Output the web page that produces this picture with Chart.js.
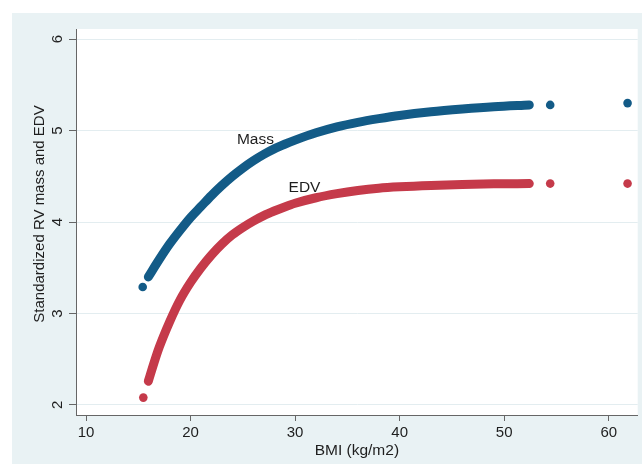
<!DOCTYPE html>
<html><head><meta charset="utf-8">
<script src="https://cdn.jsdelivr.net/npm/chart.js@4/dist/chart.umd.min.js"></script>
<style>html,body{margin:0;padding:0;background:#fff}#wrap{width:642px;height:470px;position:relative}</style>
</head><body><div id="wrap"><canvas id="c" width="642" height="470"></canvas></div>
<script>
// Tick values
const xTickValues = [10, 20, 30, 40, 50, 60];
const yTickValues = [2, 3, 4, 5, 6];
const xTitle = 'BMI (kg/m2)';
const yTitle = 'Standardized RV mass and EDV';

// Mass: dense (continuous-looking) part of the scatter
const massCurveX = [15.96, 17.0, 18.0, 19.0, 20.0, 21.0, 22.0, 23.0, 24.0, 25.0, 26.0, 27.0, 28.0, 29.0, 30.0, 32.0, 34.0, 36.0, 38.0, 40.0, 43.0, 46.0, 49.0, 52.4];
const massCurveY = [3.40, 3.59, 3.76, 3.91, 4.05, 4.17, 4.29, 4.40, 4.50, 4.59, 4.67, 4.74, 4.80, 4.85, 4.895, 4.975, 5.04, 5.09, 5.13, 5.165, 5.205, 5.235, 5.26, 5.28];
// Mass: isolated points
const massIsoX = [15.42, 54.4, 61.8];
const massIsoY = [3.29, 5.28, 5.30];

// EDV: dense part
const edvCurveX = [15.96, 16.5, 17.0, 18.0, 19.0, 20.0, 21.0, 22.0, 23.0, 24.0, 25.0, 26.0, 27.0, 28.0, 29.0, 30.0, 32.0, 34.0, 36.0, 38.0, 40.0, 43.0, 46.0, 49.0, 52.4];
const edvCurveY = [2.26, 2.46, 2.63, 2.91, 3.15, 3.34, 3.50, 3.64, 3.76, 3.86, 3.94, 4.01, 4.07, 4.12, 4.165, 4.205, 4.265, 4.31, 4.345, 4.37, 4.385, 4.40, 4.41, 4.417, 4.42];
// EDV: isolated points
const edvIsoX = [15.48, 54.4, 61.8];
const edvIsoY = [2.08, 4.42, 4.42];

// In-plot labels
const seriesLabels = ['Mass', 'EDV'];
const seriesLabelX = [26.2, 30.9];
const seriesLabelY = [4.90, 4.38];

const BLUE = '#135b87';
const RED = '#c53a4a';
const BG = '#e9f2f4';
const FONT = '"Liberation Sans", Arial, sans-serif';
const TXT = '#1e1e1e';

const pts = (xs, ys) => xs.map((x, i) => ({x: x, y: ys[i]}));

const bgPlugin = {
  id: 'bg',
  beforeDraw(chart) {
    const ctx = chart.ctx, a = chart.chartArea;
    ctx.save();
    ctx.fillStyle = '#ffffff';
    ctx.fillRect(0, 0, chart.width, chart.height);
    ctx.fillStyle = BG;
    ctx.fillRect(12, 13, chart.width - 12, 451);
    ctx.fillStyle = '#ffffff';
    ctx.fillRect(a.left, a.top, a.right - a.left, a.bottom - a.top);
    ctx.restore();
  },
  afterDraw(chart) {
    const ctx = chart.ctx, a = chart.chartArea;
    const ys = chart.scales.y, xs = chart.scales.x;
    ctx.save();
    ctx.fillStyle = TXT;
    ctx.textAlign = 'center';
    ctx.textBaseline = 'middle';
    // y tick labels (vertical)
    ctx.font = '15px ' + FONT;
    ys.ticks.forEach(t => {
      const py = ys.getPixelForValue(t.value);
      ctx.save();
      ctx.translate(a.left - 18, py);
      ctx.rotate(-Math.PI / 2);
      ctx.fillText(String(t.value), 0, 0);
      ctx.restore();
    });
    // y title
    ctx.font = '15px ' + FONT;
    ctx.save();
    ctx.translate(40, 214);
    ctx.rotate(-Math.PI / 2);
    ctx.fillText(yTitle, 0, 0);
    ctx.restore();
    // x title
    ctx.font = '15.5px ' + FONT;
    ctx.fillText(xTitle, (a.left + a.right) / 2, 451);
    // series labels
    ctx.font = '15.5px ' + FONT;
    seriesLabels.forEach((s, i) => {
      ctx.fillText(s, xs.getPixelForValue(seriesLabelX[i]), ys.getPixelForValue(seriesLabelY[i]));
    });
    ctx.restore();
  }
};

const curveStyle = (c) => ({
  showLine: true, borderColor: c, backgroundColor: c, borderWidth: 9,
  pointRadius: 0, cubicInterpolationMode: 'monotone',
  borderCapStyle: 'round', borderJoinStyle: 'round'
});
const isoStyle = (c) => ({
  showLine: false, backgroundColor: c, borderColor: c, borderWidth: 0, pointRadius: 4.3
});

new Chart(document.getElementById('c'), {
  type: 'scatter',
  data: {
    datasets: [
      Object.assign({label: 'Mass', data: pts(massCurveX, massCurveY)}, curveStyle(BLUE)),
      Object.assign({label: 'Mass pts', data: pts(massIsoX, massIsoY)}, isoStyle(BLUE)),
      Object.assign({label: 'EDV', data: pts(edvCurveX, edvCurveY)}, curveStyle(RED)),
      Object.assign({label: 'EDV pts', data: pts(edvIsoX, edvIsoY)}, isoStyle(RED))
    ]
  },
  options: {
    responsive: false,
    animation: false,
    devicePixelRatio: 1,
    layout: {padding: {left: 0, right: 4, top: 29, bottom: 0}},
    plugins: {legend: {display: false}, tooltip: {enabled: false}},
    scales: {
      x: {
        type: 'linear', min: 9.04, max: 62.77,
        afterBuildTicks: s => { s.ticks = xTickValues.map(v => ({value: v})); },
        afterFit: s => { s.height = 55; },
        grid: {drawOnChartArea: false, drawTicks: true, tickLength: 6, tickColor: '#666', lineWidth: 1},
        border: {display: true, color: '#666', width: 1},
        ticks: {color: TXT, font: {family: FONT, size: 15}, padding: 3, maxRotation: 0, autoSkip: false}
      },
      y: {
        type: 'linear', min: 1.89, max: 6.11,
        afterBuildTicks: s => { s.ticks = yTickValues.map(v => ({value: v})); },
        afterFit: s => { s.width = 76; },
        grid: {drawOnChartArea: true, color: '#e3edf0', lineWidth: 1, drawTicks: true, tickLength: 7, tickColor: '#666'},
        border: {display: true, color: '#666', width: 1},
        ticks: {display: false}
      }
    }
  },
  plugins: [bgPlugin]
});
</script>
</body></html>
